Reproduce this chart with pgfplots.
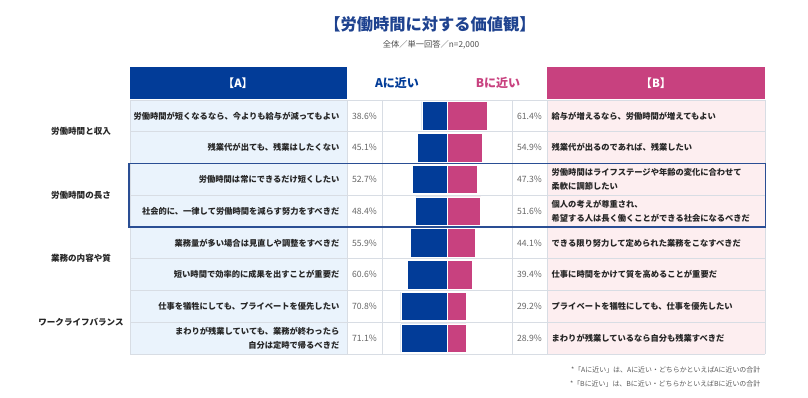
\documentclass[border=0pt]{standalone}
\usepackage{pgfplots}
\pgfplotsset{compat=1.18}
\usepackage{fontspec}
\setmainfont{Noto Sans CJK JP}
\definecolor{cblue}{HTML}{023C98}
\definecolor{cpink}{HTML}{C8417F}
\definecolor{ctitle}{HTML}{1E428F}
\definecolor{lblue}{HTML}{EAF3FC}
\definecolor{lpink}{HTML}{FDEEF0}
\definecolor{cgrid}{HTML}{D8DDE4}
\definecolor{cbox}{HTML}{2A4E94}
\definecolor{ctext}{HTML}{262626}
\definecolor{cpct}{HTML}{666666}
\newcommand\fs[2]{\fontsize{#1}{#2}\selectfont}
\begin{document}
\begin{tikzpicture}
\begin{scope}[x=0.75pt,y=-0.75pt]
\path (0,0) rectangle (808,398);
\fill[lblue] (130,100) rectangle (347,354);
\fill[lpink] (547,100) rectangle (765,354);
\foreach \i in {0,...,8} \draw[cgrid, line width=0.5pt] (130,{100+31.75*\i}) -- (765,{100+31.75*\i});
\foreach \xx in {130,347,382,512,547,765} \draw[cgrid, line width=0.5pt] (\xx,100) -- (\xx,354);
\fill[cblue] (130,67) rectangle (346.5,99);
\fill[cpink] (547,67) rectangle (765,99);
\node[text=white, font=\fs{8.5pt}{10pt}\bfseries] at (238,83) {【A】};
\node[text=white, font=\fs{8.5pt}{10pt}\bfseries] at (656,83) {【B】};
\node[text=cblue, font=\fs{9pt}{10pt}\bfseries] at (397,83) {Aに近い};
\node[text=cpink, font=\fs{9pt}{10pt}\bfseries] at (498,83) {Bに近い};
\node[text=ctitle, font=\fs{12.2pt}{13pt}\bfseries] at (430,24) {【労働時間に対する価値観】};
\node[text=black!70, font=\fs{6.2pt}{7pt}] at (431,45) {全体／単一回答／n=2,000};
\end{scope}
\begin{axis}[at={(286.5pt,-75pt)}, anchor=north west,
  scale only axis, width=97.5pt, height=190.5pt,
  xmin=-100, xmax=100, ymin=0.5, ymax=8.5, y dir=reverse,
  hide axis, clip=false,
  xbar, bar shift=0pt, bar width=0.9]
\addplot[fill=cblue, draw=white, line width=0.4pt] coordinates {(-38.6,1) (-45.1,2) (-52.7,3) (-48.4,4) (-55.9,5) (-60.6,6) (-70.8,7) (-71.1,8)};
\addplot[fill=cpink, draw=white, line width=0.4pt] coordinates {(61.4,1) (54.9,2) (47.3,3) (51.6,4) (44.1,5) (39.4,6) (29.2,7) (28.9,8)};
\end{axis}
\begin{scope}[x=0.75pt,y=-0.75pt]
\tikzset{lt/.style={anchor=east, align=right, text=ctext, font=\fs{6.2pt}{10.5pt}\bfseries},
         rt/.style={anchor=west, align=left, text=ctext, font=\fs{6.2pt}{10.5pt}\bfseries},
         pc/.style={text=cpct, font=\fs{6.5pt}{8pt}},
         gl/.style={text=ctext, font=\fs{6.4pt}{8pt}\bfseries}}
% left texts
\node[lt] at (344,115.9) {労働時間が短くなるなら、今よりも給与が減ってもよい};
\node[lt] at (344,147.6) {残業代が出ても、残業はしたくない};
\node[lt] at (344,179.4) {労働時間は常にできるだけ短くしたい};
\node[lt] at (344,211.1) {社会的に、一律して労働時間を減らす努力をすべきだ};
\node[lt] at (344,242.9) {業務量が多い場合は見直しや調整をすべきだ};
\node[lt] at (344,274.6) {短い時間で効率的に成果を出すことが重要だ};
\node[lt] at (344,306.4) {仕事を犠牲にしても、プライベートを優先したい};
\node[lt] at (344,338.1) {まわりが残業していても、業務が終わったら\\自分は定時で帰るべきだ};
% right texts
\node[rt] at (547,115.9) {給与が増えるなら、労働時間が増えてもよい};
\node[rt] at (547,147.6) {残業代が出るのであれば、残業したい};
\node[rt] at (547,179.4) {労働時間はライフステージや年齢の変化に合わせて\\柔軟に調節したい};
\node[rt] at (547,211.1) {個人の考えが尊重され、\\希望する人は長く働くことができる社会になるべきだ};
\node[rt] at (547,242.9) {できる限り努力して定められた業務をこなすべきだ};
\node[rt] at (547,274.6) {仕事に時間をかけて質を高めることが重要だ};
\node[rt] at (547,306.4) {プライベートを犠牲にしても、仕事を優先したい};
\node[rt] at (547,338.1) {まわりが残業しているなら自分も残業すべきだ};
% percents
\foreach \y/\a/\b in {115.9/38.6/61.4, 147.6/45.1/54.9, 179.4/52.7/47.3, 211.1/48.4/51.6, 242.9/55.9/44.1, 274.6/60.6/39.4, 306.4/70.8/29.2, 338.1/71.1/28.9}{
  \node[pc] at (364.5,\y) {\a\%};
  \node[pc] at (529.5,\y) {\b\%};
}
% group labels
\node[gl] at (81,131.75) {労働時間と収入};
\node[gl] at (81,195.25) {労働時間の長さ};
\node[gl] at (81,258.75) {業務の内容や質};
\node[gl] at (81,322.25) {ワークライフバランス};
% highlight box
\draw[cbox, line width=1.1pt] (129,163.5) rectangle (765.5,227);
% footnotes
\node[anchor=east, text=black!65, font=\fs{5.2pt}{6pt}] at (765,370) {*「Aに近い」は、Aに近い・どちらかといえばAに近いの合計};
\node[anchor=east, text=black!65, font=\fs{5.2pt}{6pt}] at (765,384) {*「Bに近い」は、Bに近い・どちらかといえばBに近いの合計};
\end{scope}
\end{tikzpicture}
\end{document}
